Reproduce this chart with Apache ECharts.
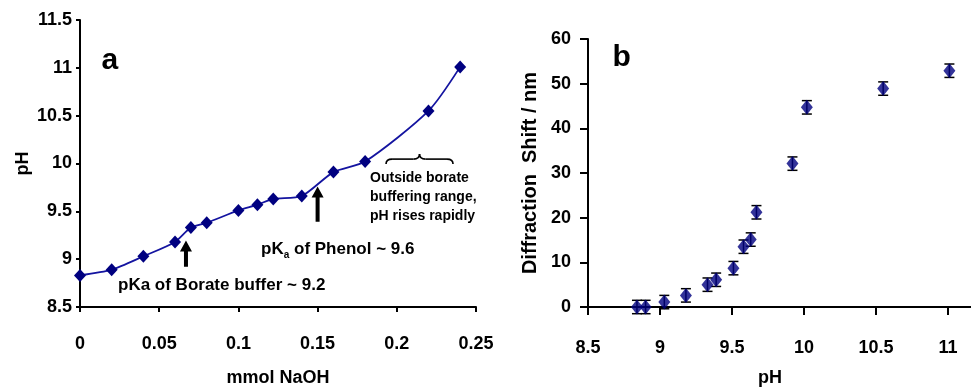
<!DOCTYPE html>
<html>
<head>
<meta charset="utf-8">
<script src="https://cdn.jsdelivr.net/npm/echarts@6/dist/echarts.min.js"></script>
<style>
html,body{margin:0;padding:0;background:#fff;}
#c{width:971px;height:392px;}
</style>
</head>
<body>
<div id="c"></div>
<script>
// Panel a: titration
const naoh = [0, 0.02, 0.04, 0.06, 0.07, 0.08, 0.10, 0.112, 0.122, 0.14, 0.16, 0.18, 0.22, 0.24];
const phA  = [8.83, 8.89, 9.03, 9.18, 9.33, 9.38, 9.51, 9.57, 9.63, 9.66, 9.91, 10.02, 10.55, 11.01];
// Panel b: diffraction shift vs pH
const phB   = [8.84, 8.90, 9.03, 9.18, 9.33, 9.39, 9.51, 9.58, 9.63, 9.67, 9.92, 10.02, 10.55, 11.01];
const shift = [0, 0, 1.1, 2.6, 5.0, 6.1, 8.7, 13.5, 15.1, 21.2, 32.1, 44.7, 48.9, 52.9];
const err   = [1.5, 1.5, 1.5, 1.5, 1.5, 1.5, 1.5, 1.5, 1.5, 1.5, 1.5, 1.5, 1.5, 1.5];

const FONT = '"Liberation Sans", Arial, sans-serif';
const chart = echarts.init(document.getElementById('c'), null, {renderer: 'canvas'});

const axisCommon = {
  axisLine: {show: true, onZero: false, lineStyle: {color: '#000', width: 2}},
  splitLine: {show: false},
  axisLabel: {color: '#000', fontFamily: FONT, fontWeight: 'bold', fontSize: 18},
  nameTextStyle: {color: '#000', fontFamily: FONT, fontWeight: 'bold', fontSize: 18}
};

const option = {
  animation: false,
  backgroundColor: '#fff',
  grid: [
    {left: 80, right: 495, top: 20, bottom: 79},
    {left: 588, right: 0, top: 39, bottom: 84}
  ],
  xAxis: [
    Object.assign({}, axisCommon, {
      gridIndex: 0, type: 'value', min: 0, max: 0.25, interval: 0.05,
      name: 'mmol NaOH', nameLocation: 'middle', nameGap: 62,
      axisTick: {show: true, inside: false, length: 5, lineStyle: {color: '#000', width: 2}},
      axisLabel: Object.assign({}, axisCommon.axisLabel, {margin: 28})
    }),
    Object.assign({}, axisCommon, {
      gridIndex: 1, type: 'value', min: 8.5, max: 11.16, interval: 0.5,
      name: 'pH', nameLocation: 'middle', nameGap: 62, nameTextStyle: Object.assign({}, axisCommon.nameTextStyle, {padding: [0, 19, 0, 0]}),
      axisTick: {show: true, inside: false, length: 8, lineStyle: {color: '#000', width: 2}},
      axisLabel: Object.assign({}, axisCommon.axisLabel, {margin: 32, showMaxLabel: false})
    })
  ],
  yAxis: [
    Object.assign({}, axisCommon, {
      gridIndex: 0, type: 'value', min: 8.5, max: 11.5, interval: 0.5,
      name: 'pH', nameLocation: 'middle', nameGap: 48,
      axisTick: {show: true, inside: false, length: 4, lineStyle: {color: '#000', width: 2}},
      axisLabel: Object.assign({}, axisCommon.axisLabel, {margin: 8})
    }),
    Object.assign({}, axisCommon, {
      gridIndex: 1, type: 'value', min: 0, max: 60, interval: 10,
      name: 'Diffraction  Shift / nm', nameLocation: 'middle', nameGap: 48,
      nameTextStyle: Object.assign({}, axisCommon.nameTextStyle, {fontSize: 20}),
      axisTick: {show: true, inside: false, length: 8, lineStyle: {color: '#000', width: 2}},
      axisLabel: Object.assign({}, axisCommon.axisLabel, {margin: 17})
    })
  ],
  series: [
    {
      type: 'line', xAxisIndex: 0, yAxisIndex: 0,
      data: naoh.map((x, i) => [x, phA[i]]),
      smooth: 0.25,
      symbol: 'diamond', symbolSize: [12, 13],
      itemStyle: {color: '#000080'},
      lineStyle: {color: '#1414a0', width: 1.8},
      z: 3
    },
    {
      type: 'custom', xAxisIndex: 1, yAxisIndex: 1,
      data: phB.map((x, i) => [x, shift[i] - err[i], shift[i] + err[i]]),
      renderItem: function (params, api) {
        const lo = api.coord([api.value(0), api.value(1)]);
        const hi = api.coord([api.value(0), api.value(2)]);
        const w = 5;
        const st = {stroke: '#000', lineWidth: 1.5};
        return {
          type: 'group',
          children: [
            {type: 'line', shape: {x1: lo[0], y1: lo[1], x2: hi[0], y2: hi[1]}, style: st},
            {type: 'line', shape: {x1: lo[0] - w, y1: lo[1], x2: lo[0] + w, y2: lo[1]}, style: st},
            {type: 'line', shape: {x1: hi[0] - w, y1: hi[1], x2: hi[0] + w, y2: hi[1]}, style: st}
          ]
        };
      },
      z: 2
    },
    {
      type: 'scatter', xAxisIndex: 1, yAxisIndex: 1,
      data: phB.map((x, i) => [x, shift[i]]),
      symbol: 'diamond', symbolSize: [12, 15],
      itemStyle: {color: '#000080'},
      z: 3
    }
  ]
};
chart.setOption(option);

// Annotations anchored in data coordinates
function pA(x, y) { return chart.convertToPixel({gridIndex: 0}, [x, y]); }
function pB(x, y) { return chart.convertToPixel({gridIndex: 1}, [x, y]); }

function arrow(xv, yBottom, yTop) {
  const b = pA(xv, yBottom), t = pA(xv, yTop);
  const x = b[0], hw = 2, hh = 11, hx = 6;
  return {
    type: 'polygon',
    shape: {points: [
      [x - hw, b[1]], [x - hw, t[1] + hh], [x - hx, t[1] + hh], [x, t[1]],
      [x + hx, t[1] + hh], [x + hw, t[1] + hh], [x + hw, b[1]]
    ]},
    style: {fill: '#000'}
  };
}

function brace(x1v, x2v, yv) {
  const a = pA(x1v, yv), c = pA(x2v, yv);
  const x1 = a[0], x2 = c[0], y = a[1], xm = (x1 + x2) / 2, d = 5;
  const st = {stroke: '#000', lineWidth: 1.6, fill: null};
  return [
    {type: 'bezierCurve', shape: {x1: x1, y1: y + d, cpx1: x1, cpy1: y, x2: x1 + 6, y2: y}, style: st},
    {type: 'line', shape: {x1: x1 + 6, y1: y, x2: xm - 6, y2: y}, style: st},
    {type: 'bezierCurve', shape: {x1: xm - 6, y1: y, cpx1: xm, cpy1: y, x2: xm, y2: y - d}, style: st},
    {type: 'bezierCurve', shape: {x1: xm, y1: y - d, cpx1: xm, cpy1: y, x2: xm + 6, y2: y}, style: st},
    {type: 'line', shape: {x1: xm + 6, y1: y, x2: x2 - 6, y2: y}, style: st},
    {type: 'bezierCurve', shape: {x1: x2 - 6, y1: y, cpx1: x2, cpy1: y, x2: x2, y2: y + d}, style: st}
  ];
}

const tA = pA(0.0189, 11.07), tB = pB(8.734, 55.7);
const t1 = pA(0.024, 8.725), t2 = pA(0.1143, 9.104), t3 = pA(0.1831, 9.851);

const elements = [
  {type: 'text', style: {text: 'a', x: tA[0], y: tA[1], font: 'bold 30px ' + FONT, fill: '#000', textAlign: 'center', textVerticalAlign: 'middle'}},
  {type: 'text', style: {text: 'b', x: tB[0], y: tB[1], font: 'bold 30px ' + FONT, fill: '#000', textAlign: 'center', textVerticalAlign: 'middle'}},
  arrow(0.0669, 8.92, 9.196),
  arrow(0.150, 9.39, 9.76),
  {type: 'text', style: {text: 'pKa of Borate buffer ~ 9.2', x: t1[0], y: t1[1], font: 'bold 17px ' + FONT, fill: '#000', textAlign: 'left', textVerticalAlign: 'middle'}},
  {type: 'text', style: {
    text: '{n|pK}{s|a}{n| of Phenol ~ 9.6}', x: t2[0], y: t2[1], textAlign: 'left', textVerticalAlign: 'middle',
    rich: {
      n: {fontFamily: FONT, fontWeight: 'bold', fontSize: 17, fill: '#000', color: '#000', lineHeight: 20, verticalAlign: 'middle'},
      s: {fontFamily: FONT, fontWeight: 'bold', fontSize: 10, fill: '#000', color: '#000', lineHeight: 20, padding: [12, 0, 0, 0], verticalAlign: 'middle'}
    }
  }},
  {type: 'text', style: {text: 'Outside borate\nbuffering range,\npH rises rapidly', x: t3[0], y: t3[1] - 9.5, font: 'bold 14px ' + FONT, fill: '#000', lineHeight: 19, textAlign: 'left', textVerticalAlign: 'top'}}
].concat(brace(0.1932, 0.2355, 10.046));

chart.setOption({graphic: {elements: elements}});
</script>
</body>
</html>
